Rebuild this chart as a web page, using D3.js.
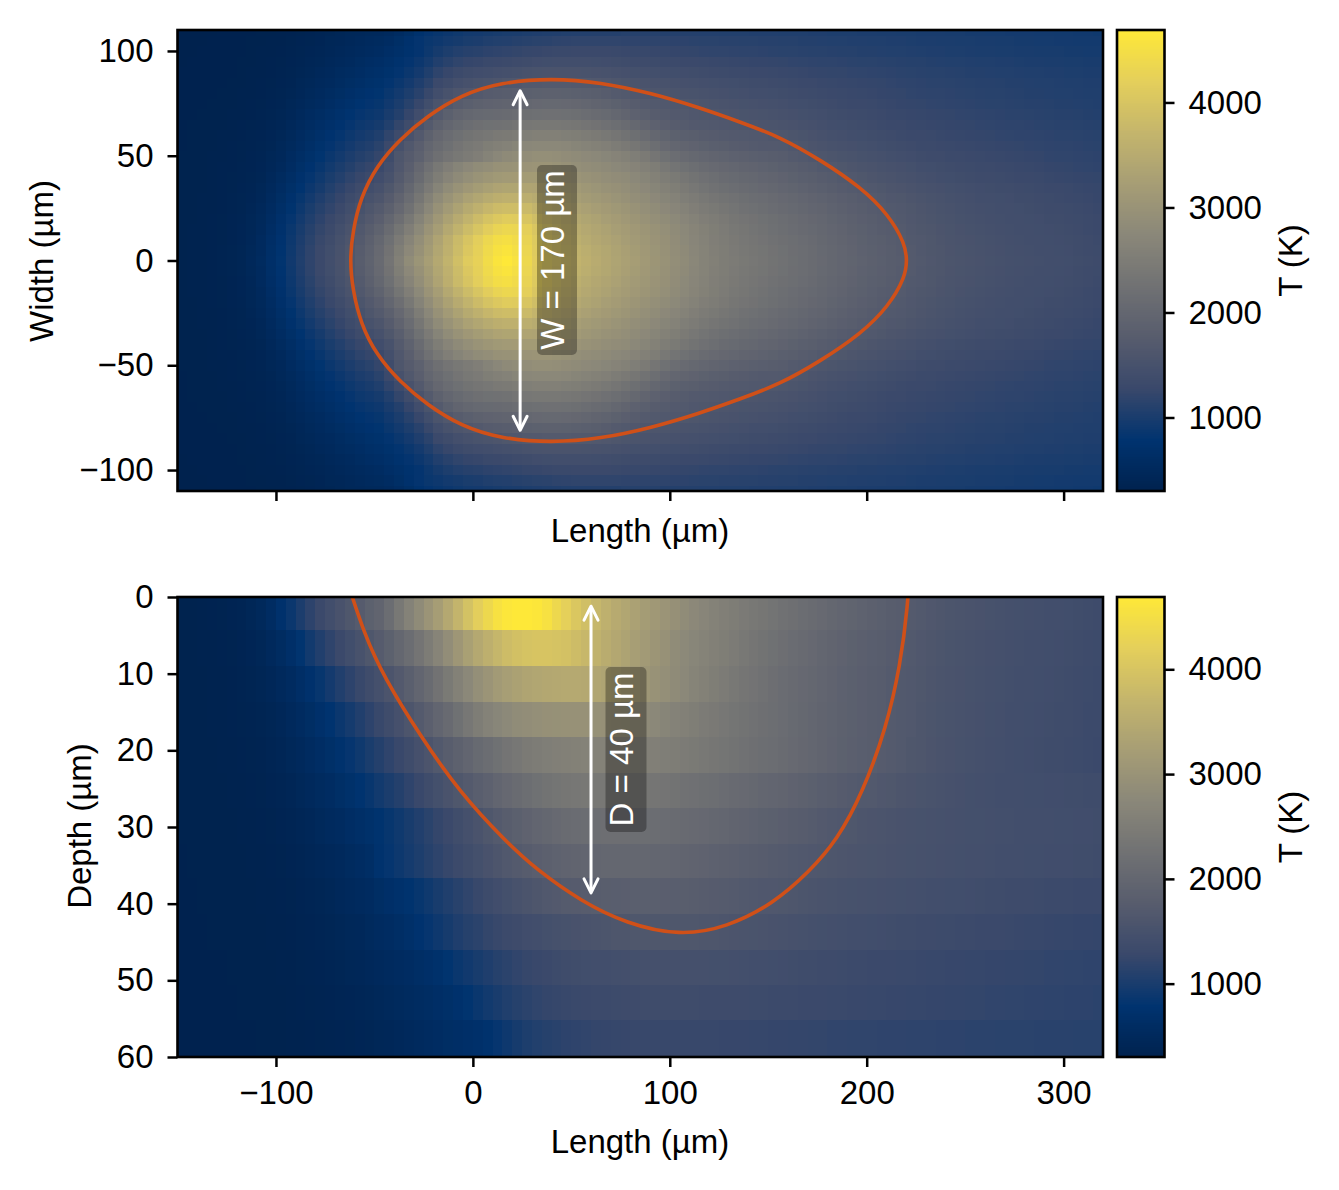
<!DOCTYPE html>
<html>
<head>
<meta charset="utf-8">
<script src="https://cdn.jsdelivr.net/npm/d3@7"></script>
<style>
html,body{margin:0;padding:0;background:#fff}
svg{display:block}
text{font-family:"Liberation Sans",Arial,sans-serif;fill:#000}
</style>
</head>
<body>
<svg id="chart" width="1339" height="1190"></svg>
<script>
// Melt pool temperature field, plan view and cross section.
// Temperatures are stored in units of 10 K, one column per 5 µm of length (-150 to 320 µm).

// Plan view: rows for width = 0, 5, ... 110 µm; the field mirrors about width = 0.
const planRow000=[32,33,33,34,36,38,41,47,55,68,80,93,106,119,131,142,153,164,178,192,210,232,258,284,304,324,345,367,390,413,425,445,462,469,458,438,415,398,386,377,368,360,352,344,336,329,322,314,306,298,290,282,273,265,258,252,247,242,238,234,229,225,220,216,212,207,202,198,194,190,186,183,179,176,172,168,165,162,159,157,155,153,151,149,147,146,145,144,143,142,141,139,137,135];
const planRow005=[32,33,33,34,36,38,41,46,54,67,79,92,105,118,130,141,152,163,176,190,207,228,253,277,297,318,340,362,384,406,423,441,456,462,451,433,413,396,383,373,365,357,349,342,334,327,320,312,304,296,288,280,272,264,257,251,246,241,237,233,228,224,219,215,211,206,201,197,193,189,185,182,178,175,171,167,164,161,158,156,154,152,150,148,146,145,144,143,142,141,140,138,136,134];
const planRow010=[32,33,33,34,35,37,40,45,53,65,77,90,103,115,127,138,149,160,172,186,201,222,246,268,290,312,335,358,380,400,418,435,448,452,444,428,410,394,380,370,359,351,344,337,330,323,316,309,301,294,286,278,270,262,255,249,243,238,234,230,225,221,217,213,209,204,199,195,191,187,183,180,176,173,169,166,163,160,157,155,153,151,149,147,145,144,143,142,141,140,139,137,135,133];
const planRow015=[32,33,33,34,35,37,40,44,51,62,74,87,99,111,122,133,144,155,166,179,192,211,233,255,278,301,323,345,365,384,401,417,430,436,433,421,404,388,375,364,353,346,339,332,325,319,312,305,298,291,283,276,268,260,253,247,241,236,231,227,222,218,214,210,206,201,197,193,188,185,181,177,174,171,167,164,161,158,156,153,151,149,147,145,144,143,142,141,140,139,138,135,133,131];
const planRow020=[32,32,33,34,35,37,39,43,49,59,71,83,95,106,117,128,138,148,159,170,182,199,219,241,265,288,310,331,350,367,383,397,408,414,412,402,388,376,366,356,345,338,332,325,319,312,306,299,292,285,278,270,263,255,249,243,237,232,228,224,220,215,211,207,203,199,194,190,186,182,178,175,172,169,165,162,159,156,154,151,149,147,145,144,143,142,141,140,138,137,136,134,132,130];
const planRow025=[32,32,33,33,34,36,38,42,47,56,67,78,90,101,111,121,131,141,151,161,171,186,205,226,250,274,296,316,333,349,362,374,383,387,386,380,370,360,352,344,335,329,323,317,311,305,299,292,285,277,270,262,255,248,242,236,231,226,222,218,214,210,206,202,198,195,190,186,182,178,175,172,169,166,163,160,157,154,152,149,147,145,144,143,142,141,139,138,136,135,134,132,130,128];
const planRow030=[32,32,33,33,34,36,38,40,45,53,63,74,85,95,105,115,124,134,143,152,160,175,193,214,237,260,282,300,316,330,341,351,358,361,361,357,351,345,339,332,324,318,313,308,302,296,290,284,277,269,262,254,247,240,234,229,225,220,216,213,209,205,201,197,193,190,186,182,178,174,171,168,165,163,160,157,154,152,149,147,145,143,142,141,140,138,137,136,134,133,131,129,128,126];
const planRow035=[32,32,32,33,34,35,37,39,43,50,59,69,79,89,98,108,117,126,135,143,150,163,181,201,224,246,267,284,298,310,320,328,335,338,338,337,335,332,327,321,315,309,304,299,294,289,283,277,269,261,253,245,238,231,225,220,216,212,208,205,202,198,194,190,186,183,179,175,172,169,166,163,160,158,155,152,150,148,146,144,142,140,139,138,137,135,134,133,131,130,129,127,126,125];
const planRow040=[32,32,32,33,34,35,36,38,41,47,55,64,74,83,92,101,109,118,126,133,140,152,172,190,212,233,252,268,281,292,300,307,313,316,317,318,318,317,313,308,303,298,294,290,286,282,276,269,261,252,244,236,229,223,217,212,208,204,201,198,195,191,187,183,180,176,173,169,166,163,160,157,155,152,150,147,145,143,141,139,138,136,135,134,133,131,130,129,127,126,125,124,123,122];
const planRow045=[32,32,32,33,34,34,36,37,40,45,51,60,69,77,86,94,102,110,118,124,131,145,165,182,203,223,240,255,267,277,284,290,296,299,300,301,303,303,300,296,292,288,284,280,276,272,266,259,251,241,231,224,218,212,207,203,199,196,193,190,187,183,180,176,173,169,166,163,160,157,155,152,150,148,146,143,141,139,137,136,134,133,132,130,129,128,127,126,124,123,122,121,120,119];
const planRow050=[32,32,32,33,33,34,35,37,39,43,48,56,64,72,80,88,95,103,110,115,123,137,161,175,189,207,221,232,241,248,255,264,273,281,285,288,291,291,289,286,282,279,275,271,266,261,254,245,235,224,215,209,204,199,195,192,189,186,183,181,179,176,172,169,165,162,159,156,154,151,149,147,144,142,140,138,136,135,133,132,130,129,128,127,126,125,124,123,121,120,120,119,118,117];
const planRow055=[31,32,32,32,33,34,35,36,38,41,46,52,60,67,75,82,89,96,103,107,115,130,150,167,182,199,212,222,232,240,246,253,259,263,269,274,276,276,275,273,269,265,261,257,250,243,236,227,217,207,200,195,191,187,183,180,177,174,172,170,170,168,165,162,158,155,152,150,148,146,144,141,139,137,135,133,132,130,129,128,127,126,125,124,123,122,121,120,119,118,118,117,116,115];
const planRow060=[31,32,32,32,33,33,34,36,37,40,44,49,56,63,70,77,83,90,96,100,106,120,136,153,170,188,203,213,222,229,234,239,243,245,250,256,258,259,258,256,253,249,245,240,234,227,220,211,202,194,187,183,180,177,174,172,170,168,167,166,164,162,159,156,153,150,147,145,143,141,139,137,135,133,131,130,129,127,126,125,124,123,122,121,120,119,119,118,117,116,116,115,114,113];
const planRow065=[31,32,32,32,32,33,34,35,36,39,42,47,53,59,65,71,77,84,90,93,98,108,122,138,155,172,188,199,208,216,221,224,226,227,232,238,240,241,240,239,236,232,228,223,218,211,204,196,189,182,177,173,170,168,166,165,164,162,160,158,157,155,153,150,148,145,143,141,139,137,135,133,131,130,128,127,126,125,124,123,122,121,120,119,118,118,117,116,115,114,114,113,112,111];
const planRow070=[31,31,32,32,32,33,33,34,36,38,41,45,50,56,61,67,73,79,84,87,91,100,110,124,140,156,172,185,195,202,206,208,210,211,215,220,222,223,223,222,220,216,212,208,202,196,189,183,177,173,170,168,165,163,161,160,158,156,155,154,152,150,148,146,144,142,139,137,135,134,132,130,128,127,126,125,124,123,122,121,120,119,118,117,116,116,115,114,113,112,112,111,110,109];
const planRow075=[31,31,31,32,32,32,33,34,35,37,39,43,48,52,57,62,68,73,79,82,85,93,102,113,126,141,157,167,176,183,188,191,193,195,198,202,205,206,206,205,203,200,196,192,187,182,176,172,169,167,165,163,161,159,157,155,153,151,150,148,147,145,143,141,139,137,135,133,131,130,129,127,126,124,123,122,121,120,119,118,117,116,115,115,114,113,112,112,111,110,110,109,108,107];
const planRow080=[31,31,31,31,32,32,33,33,34,36,38,41,45,49,53,58,63,68,73,77,80,87,95,104,114,127,143,152,160,165,170,174,177,179,182,185,187,188,188,187,185,183,180,176,172,168,165,162,160,159,157,155,154,152,150,148,146,145,143,142,141,139,137,136,134,132,130,129,128,127,126,124,123,122,120,119,118,118,117,116,115,114,113,113,112,111,110,110,109,108,108,107,106,106];
const planRow085=[31,31,31,31,31,32,32,33,34,35,37,39,43,46,50,54,58,63,67,72,75,81,88,96,105,116,130,138,145,150,154,157,160,163,165,168,170,172,172,171,170,169,167,165,162,159,157,155,153,152,150,148,147,145,144,142,141,139,138,137,135,134,132,131,130,128,127,126,125,124,123,122,121,119,118,117,116,116,115,114,113,112,112,111,110,110,109,108,108,107,106,106,105,105];
const planRow090=[31,31,31,31,31,31,32,33,33,34,36,38,41,44,47,51,55,58,62,67,70,75,81,88,96,106,118,126,132,137,140,143,145,147,149,152,154,155,155,155,155,154,153,152,150,148,146,145,144,142,141,140,139,137,136,134,133,132,131,130,129,128,127,126,124,123,122,122,121,120,119,118,117,116,115,114,113,113,112,111,110,110,109,108,108,107,106,106,105,105,104,104,103,103];
const planRow095=[30,31,31,31,31,31,32,32,33,34,35,37,39,42,44,47,51,54,58,62,65,70,76,82,89,97,107,114,120,124,126,129,131,133,135,138,140,141,142,142,142,142,141,140,139,138,136,135,134,133,132,131,130,129,128,127,126,125,124,124,123,122,121,120,119,118,118,117,116,115,115,114,113,112,111,111,110,109,108,108,107,106,106,105,105,104,103,103,102,102,101,101,100,100];
const planRow100=[30,30,31,31,31,31,31,32,33,33,34,36,38,40,42,45,48,51,54,57,60,65,70,76,82,90,98,104,109,112,114,117,119,121,122,125,126,128,129,129,130,130,130,130,129,128,127,127,126,125,124,123,122,121,120,120,119,118,118,117,116,115,115,114,113,113,112,111,111,110,110,109,108,108,107,106,105,105,104,104,103,102,102,101,101,100,100,99,99,99,98,98,97,97];
const planRow105=[30,30,30,31,31,31,31,32,32,33,33,35,37,38,40,43,45,48,51,53,55,60,66,74,82,87,91,95,98,101,103,106,108,109,111,113,115,116,118,119,120,120,120,120,120,119,119,118,118,118,117,117,116,115,115,114,114,113,113,112,112,111,111,110,110,109,108,108,107,107,106,106,105,105,104,103,103,102,102,101,101,100,100,99,99,98,98,97,97,96,96,95,95,95];
const planRow110=[30,30,30,30,31,31,31,31,32,32,33,34,35,37,39,41,43,46,48,49,50,54,60,66,76,82,86,89,92,95,96,98,99,101,102,104,105,106,107,108,109,109,110,110,110,111,111,111,111,110,110,110,110,109,109,108,108,108,107,107,107,106,106,106,105,105,104,104,104,103,103,102,102,101,101,100,100,100,99,99,98,98,97,97,96,96,96,95,95,94,94,93,93,92];

// Cross section: one row per element layer, from the surface down.
const sectRow00=[32,32,33,34,35,37,39,43,49,60,74,88,103,117,130,142,153,164,175,187,195,215,240,262,283,303,323,345,370,395,418,438,455,465,469,469,466,455,438,422,405,390,375,362,350,340,330,320,312,303,294,285,277,270,263,257,251,246,241,236,231,226,221,216,212,207,202,198,194,190,186,183,179,176,172,168,165,162,159,157,155,153,151,149,147,146,145,144,143,142,141,139,137,135];
const sectRow01=[32,32,33,33,34,35,37,40,44,50,58,68,80,94,107,119,130,141,152,163,174,187,201,216,232,250,268,288,308,328,345,360,373,385,393,398,400,400,398,394,385,376,365,354,344,334,324,315,306,297,285,278,271,265,259,253,247,241,235,229,224,219,214,209,205,200,196,191,187,184,181,178,174,171,168,165,162,159,156,154,152,150,148,147,145,144,143,142,141,140,139,137,135,134];
const sectRow02=[32,32,32,33,33,34,36,38,41,45,50,57,65,74,85,96,107,117,127,137,147,158,170,183,197,212,228,244,260,276,291,303,315,324,331,337,341,344,346,347,347,345,341,336,330,323,315,307,299,291,283,275,267,260,253,247,241,235,230,225,219,214,209,205,201,197,193,189,185,182,179,176,172,169,166,163,160,157,155,153,151,149,147,146,144,143,142,141,140,139,138,136,134,133];
const sectRow03=[32,32,32,33,33,34,35,36,38,41,45,50,56,63,71,79,88,97,107,117,127,137,148,160,172,184,197,210,224,238,251,262,271,278,284,288,292,294,295,296,296,296,295,294,292,289,285,280,275,269,263,258,253,248,243,238,233,229,225,221,217,213,208,204,200,196,192,188,185,182,179,176,172,169,166,162,159,156,154,152,150,148,146,145,143,142,141,140,139,138,137,135,133,132];
const sectRow04=[32,32,32,32,33,33,34,35,36,39,42,46,50,56,62,69,76,84,92,101,110,119,128,138,148,158,168,178,188,198,208,216,224,232,239,245,250,254,257,259,261,262,263,263,263,262,261,259,257,254,251,248,244,241,237,233,229,225,221,218,215,211,207,203,199,195,191,187,184,181,178,174,171,168,164,161,158,155,153,151,149,147,145,144,142,141,140,139,138,137,136,134,132,131];
const sectRow05=[32,32,32,32,32,33,33,34,35,37,39,42,46,50,55,60,66,72,79,86,94,102,110,119,128,137,146,155,164,172,181,189,197,205,212,218,224,229,233,236,238,240,241,241,241,240,239,237,235,232,229,226,223,220,217,214,210,207,204,200,198,195,191,188,185,181,178,175,172,169,168,165,163,160,158,156,154,152,150,148,146,145,144,143,143,142,141,141,140,140,139,139,138,138];
const sectRow06=[32,32,32,32,32,32,33,33,34,35,37,39,42,45,49,53,57,62,67,72,78,85,92,99,107,115,123,131,139,147,155,163,171,178,185,191,197,202,207,211,214,216,218,219,219,219,218,217,216,214,212,210,207,205,202,199,196,193,190,187,185,182,179,176,173,170,167,165,163,160,158,157,155,153,152,151,150,149,148,147,146,146,145,144,144,143,143,142,142,141,141,140,140,139];
const sectRow07=[31,32,32,32,32,32,32,33,33,34,35,37,39,42,45,48,51,55,59,64,76,83,90,97,104,111,118,125,132,139,146,153,160,166,172,177,182,186,190,193,196,198,200,201,202,202,202,201,200,199,197,195,193,191,189,186,184,181,178,176,173,171,169,167,165,163,161,160,158,157,156,155,153,152,151,150,149,148,147,146,145,145,144,143,142,142,141,141,140,140,140,139,139,138];
const sectRow08=[31,31,32,32,32,32,32,32,33,33,34,35,37,39,41,44,47,50,53,57,63,68,73,78,85,92,99,106,113,120,127,134,140,146,152,157,162,166,170,173,175,177,179,180,181,182,183,183,183,182,181,180,179,177,175,173,171,169,167,165,165,163,161,159,157,155,154,152,151,150,149,148,147,146,145,144,143,142,141,141,140,139,138,137,136,136,135,134,133,133,132,131,131,130];
const sectRow09=[31,31,31,32,32,32,32,32,32,33,33,34,36,37,39,41,43,46,48,52,56,60,64,70,77,84,91,98,105,111,116,122,127,132,136,140,143,146,149,151,153,155,157,159,161,162,163,164,164,164,164,164,163,162,161,160,158,157,156,155,153,152,150,149,147,146,145,144,143,142,141,140,139,138,137,136,135,134,134,133,132,131,131,130,129,128,127,127,126,125,125,124,124,123];
const sectRow10=[31,31,31,31,31,32,32,32,32,32,33,33,35,36,37,39,41,43,45,48,50,53,57,60,64,68,73,80,87,93,99,105,111,116,121,125,128,131,134,137,139,141,142,143,144,145,146,147,147,147,147,147,147,147,146,146,145,144,143,142,141,140,139,138,137,136,135,134,133,132,131,131,130,129,129,128,127,127,126,126,125,125,124,124,123,123,122,122,121,121,120,120,119,119];
const sectRow11=[31,31,31,31,31,31,32,32,32,32,32,33,34,35,36,37,39,40,42,44,46,49,52,55,58,61,65,69,74,80,87,94,100,106,111,116,120,123,125,127,129,131,132,133,134,135,136,137,137,137,137,137,137,136,136,136,135,135,134,134,133,133,132,131,131,130,129,129,128,128,127,127,126,126,125,125,124,124,123,123,122,122,121,121,120,120,119,119,118,118,117,117,117,116];
const sectRow12=[31,31,31,31,31,31,31,31,32,32,32,33,33,34,35,36,37,38,40,41,43,45,47,50,53,56,59,63,65,68,71,76,84,91,98,104,108,111,114,117,119,121,123,124,125,126,127,127,127,127,127,127,127,127,127,126,126,126,125,125,124,124,123,123,122,122,121,121,120,120,120,119,119,119,118,118,118,117,117,117,116,116,116,115,115,115,115,114,114,114,114,113,113,113];

const planRows=[planRow000,planRow005,planRow010,planRow015,planRow020,planRow025,planRow030,planRow035,planRow040,planRow045,planRow050,planRow055,planRow060,planRow065,planRow070,planRow075,planRow080,planRow085,planRow090,planRow095,planRow100,planRow105,planRow110];
const sectRows=[sectRow00,sectRow01,sectRow02,sectRow03,sectRow04,sectRow05,sectRow06,sectRow07,sectRow08,sectRow09,sectRow10,sectRow11,sectRow12];

// Depths of the element layer boundaries in the cross section, µm.
const sectEdges=[0,4.3,9,13.7,18.2,22.9,27.5,32.2,36.7,41.4,46,50.6,55.2,60];

// Melt pool boundary as spline control points: length and half width in plan, length and depth in section, µm.
const planBoundaryLength=[-62.5,-61,-57,-49,-37,-23,-6,14,40,65,90,115,136,156,176.5,197,211,219.5,220.5];
const planBoundaryWidth=[0,14,30,45,58,69,79,85,87,85,80,73,66,59,48,35,22,8,0];
const sectBoundaryLength=[-65,-55,-45,-27,-6.6,16,32,55,78,105,129,152.6,171,185,198,210,217,221,222];
const sectBoundaryDepth=[-3,5,10.5,18,25.5,31.7,35.5,39.7,42.6,44.2,43.1,40,35.8,31.7,25.5,17,9,1,-5];

const lengthTicks=[-100,0,100,200,300];
const widthTicks=[100,50,0,-50,-100];
const depthTicks=[0,10,20,30,40,50,60];
const tempTicks=[1000,2000,3000,4000];
const cividisStops=["#00224e","#00336f","#39486b","#575c6d","#707173","#8a8779","#a69d75","#c4b56c","#e4cf5b","#fee838"];

const tempMin=300, tempMax=4690, cellLength=5, planStep=5;
const ink="#000", boundaryColor="#d05018", spine=2.6;
const panels=[{top:30,bottom:491},{top:597,bottom:1057}];
const left=177.5, right=1103, barLeft=1117, barRight=1164.5, fontSize=33;

const svg=d3.select("#chart");
const defs=svg.append("defs");
const cmap=d3.scaleSequential(d3.piecewise(d3.interpolateRgb,cividisStops)).domain([tempMin,tempMax]);
const xScale=d3.scaleLinear().domain([-150,320]).range([left,right]);
const yPlan=d3.scaleLinear().domain([110,-110]).range([panels[0].top,panels[0].bottom]);
const ySect=d3.scaleLinear().domain([0,60]).range([panels[1].top,panels[1].bottom]);
const columnStarts=d3.range(-150,320,cellLength);

function frame(g,x0,x1,y0,y1){
  g.append("rect").attr("x",x0).attr("y",y0).attr("width",x1-x0).attr("height",y1-y0)
    .attr("fill","none").attr("stroke",ink).attr("stroke-width",spine);
}
function styleAxis(g){
  g.select(".domain").remove();
  g.selectAll(".tick line").attr("stroke",ink).attr("stroke-width",2.5);
  g.selectAll(".tick text").attr("font-size",fontSize).attr("fill",ink).style("font-family",'"Liberation Sans",Arial,sans-serif');
}
const fmt=d=>String(d).replace("-","\u2212");

function heatLayer(name,cells,py0,py1){
  defs.append("clipPath").attr("id",name).append("rect")
    .attr("x",left).attr("y",py0).attr("width",right-left).attr("height",py1-py0);
  svg.append("g").attr("clip-path",`url(#${name})`).attr("shape-rendering","crispEdges")
    .selectAll("rect").data(cells).join("rect")
    .attr("x",d=>xScale(d.x0)).attr("width",d=>xScale(d.x0+cellLength)-xScale(d.x0)+0.6)
    .attr("y",d=>d.py0).attr("height",d=>d.py1-d.py0+0.6)
    .attr("fill",d=>cmap(d.t));
}

// Plan view cells, mirrored about the centre line.
const planCells=[];
planRows.forEach((row,i)=>{
  const yc=i*planStep;
  (i===0?[1]:[1,-1]).forEach(sign=>{
    row.forEach((t,k)=>planCells.push({x0:columnStarts[k],t:t*10,
      py0:yPlan(sign*yc+planStep/2),py1:yPlan(sign*yc-planStep/2)}));
  });
});
heatLayer("clipPlan",planCells,panels[0].top,panels[0].bottom);

// Cross section cells.
const sectCells=[];
sectRows.forEach((row,i)=>{
  row.forEach((t,k)=>sectCells.push({x0:columnStarts[k],t:t*10,py0:ySect(sectEdges[i]),py1:ySect(sectEdges[i+1])}));
});
heatLayer("clipSect",sectCells,panels[1].top,panels[1].bottom);

// Melt pool boundaries, smoothed through their control points.
const planUpper=planBoundaryLength.map((x,i)=>[x,planBoundaryWidth[i]]);
const planLower=planUpper.slice(1,-1).reverse().map(p=>[p[0],-p[1]]);
const planLine=d3.line().x(p=>xScale(p[0])).y(p=>yPlan(p[1])).curve(d3.curveBasisClosed);
svg.append("path").attr("d",planLine(planUpper.concat(planLower)))
  .attr("fill","none").attr("stroke",boundaryColor).attr("stroke-width",3.6);
const sectLine=d3.line().x(x=>xScale(x)).y((x,i)=>ySect(sectBoundaryDepth[i])).curve(d3.curveBasis);
svg.append("g").attr("clip-path","url(#clipSect)").append("path").attr("d",sectLine(sectBoundaryLength))
  .attr("fill","none").attr("stroke",boundaryColor).attr("stroke-width",3.6);

// Double-headed dimension arrow with a rotated label on a translucent plate.
function dimension(px,py0,py1,labelX,labelY,boxW,boxH,label){
  const g=svg.append("g");
  g.append("line").attr("x1",px).attr("x2",px).attr("y1",py0+1).attr("y2",py1-1)
    .attr("stroke","#fff").attr("stroke-width",3);
  [[py0,1],[py1,-1]].forEach(([py,s])=>{
    g.append("path").attr("d",`M${px-7},${py+s*14}L${px},${py}L${px+7},${py+s*14}`)
      .attr("fill","none").attr("stroke","#fff").attr("stroke-width",3).attr("stroke-linejoin","round").attr("stroke-linecap","round");
  });
  g.append("rect").attr("x",labelX-boxW/2).attr("y",labelY-boxH/2).attr("width",boxW).attr("height",boxH)
    .attr("rx",5).attr("fill","#000").attr("fill-opacity",0.3);
  g.append("text").attr("transform",`translate(${labelX+7},${labelY}) rotate(-90)`)
    .attr("text-anchor","middle").attr("font-size",fontSize).style("fill","#fff").text(label);
}
dimension(xScale(24),yPlan(81),yPlan(-81),557,260,40,190,"W = 170 µm");
dimension(xScale(60),ySect(1.2),ySect(38.6),626,749.5,41,165,"D = 40 µm");

// Main axes.
const xAxisTop=svg.append("g").attr("transform",`translate(0,${panels[0].bottom})`)
  .call(d3.axisBottom(xScale).tickValues(lengthTicks).tickSize(10).tickFormat(""));
styleAxis(xAxisTop);
const xAxisBot=svg.append("g").attr("transform",`translate(0,${panels[1].bottom})`)
  .call(d3.axisBottom(xScale).tickValues(lengthTicks).tickSize(10).tickPadding(14).tickFormat(fmt));
styleAxis(xAxisBot);
const yAxisTop=svg.append("g").attr("transform",`translate(${left},0)`)
  .call(d3.axisLeft(yPlan).tickValues(widthTicks).tickSize(10).tickPadding(14).tickFormat(fmt));
styleAxis(yAxisTop);
const yAxisBot=svg.append("g").attr("transform",`translate(${left},0)`)
  .call(d3.axisLeft(ySect).tickValues(depthTicks).tickSize(10).tickPadding(14).tickFormat(fmt));
styleAxis(yAxisBot);
frame(svg,left,right,panels[0].top,panels[0].bottom);
frame(svg,left,right,panels[1].top,panels[1].bottom);

// Axis titles.
function title(x,y,txt,rot){
  svg.append("text").attr("transform",`translate(${x},${y})`+(rot?` rotate(${rot})`:""))
    .attr("text-anchor","middle").attr("font-size",fontSize).text(txt);
}
title(640,542,"Length (µm)");
title(640,1153,"Length (µm)");
title(53,261,"Width (µm)",-90);
title(91,826,"Depth (µm)",-90);

// Colour bars.
panels.forEach((p,i)=>{
  const scale=d3.scaleLinear().domain([tempMin,tempMax]).range([p.bottom,p.top]);
  const steps=d3.range(256).map(k=>tempMin+(tempMax-tempMin)*k/256);
  const dv=(tempMax-tempMin)/256;
  svg.append("g").attr("shape-rendering","crispEdges").selectAll("rect").data(steps).join("rect")
    .attr("x",barLeft).attr("width",barRight-barLeft)
    .attr("y",d=>scale(d+dv)).attr("height",d=>scale(d)-scale(d+dv)+0.6)
    .attr("fill",d=>cmap(d+dv/2));
  const ax=svg.append("g").attr("transform",`translate(${barRight},0)`)
    .call(d3.axisRight(scale).tickValues(tempTicks).tickSize(10).tickPadding(14).tickFormat(d3.format("d")));
  styleAxis(ax);
  frame(svg,barLeft,barRight,p.top,p.bottom);
  title(1302,(p.top+p.bottom)/2,"T (K)",-90);
});
</script>
</body>
</html>
